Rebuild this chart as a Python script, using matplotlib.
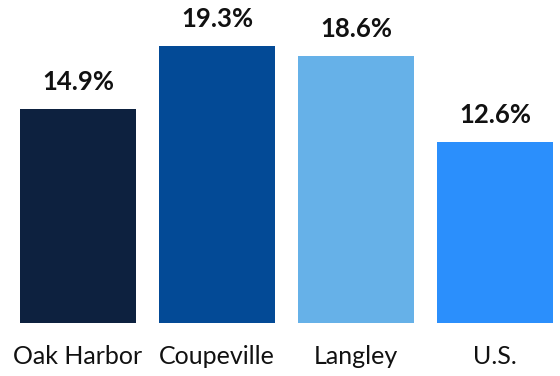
import matplotlib
matplotlib.use("Agg")
import matplotlib.pyplot as plt

# Share of population, by place
places = ["Oak Harbor", "Coupeville", "Langley", "U.S."]
shares = [14.9, 19.3, 18.6, 12.6]
bar_colors = ["#0D213F", "#034A96", "#66B1E8", "#2B8FFC"]

plt.rcParams["font.family"] = ["Lato", "DejaVu Sans"]

fig = plt.figure(figsize=(5.6, 3.76), dpi=100)
ax = fig.add_axes([0, 53 / 376, 1, 323 / 376])

x = range(len(places))
bars = ax.bar(x, shares, width=0.84, color=bar_colors)

for b, v in zip(bars, shares):
    ax.annotate("{:.1f}%".format(v), (b.get_x() + b.get_width() / 2, v),
                xytext=(0, 15), textcoords="offset pixels",
                ha="center", va="bottom", fontsize=18.5, fontweight="bold",
                color="#111111")

ax.set_xlim(-0.561, 3.468)
ax.set_ylim(0, 22.54)
ax.set_xticks(list(x))
ax.set_xticklabels(places, fontsize=18, color="#111111")
ax.tick_params(axis="x", length=0, pad=16)
ax.set_yticks([])
for s in ax.spines.values():
    s.set_visible(False)

fig.savefig("out.png", dpi=100)
